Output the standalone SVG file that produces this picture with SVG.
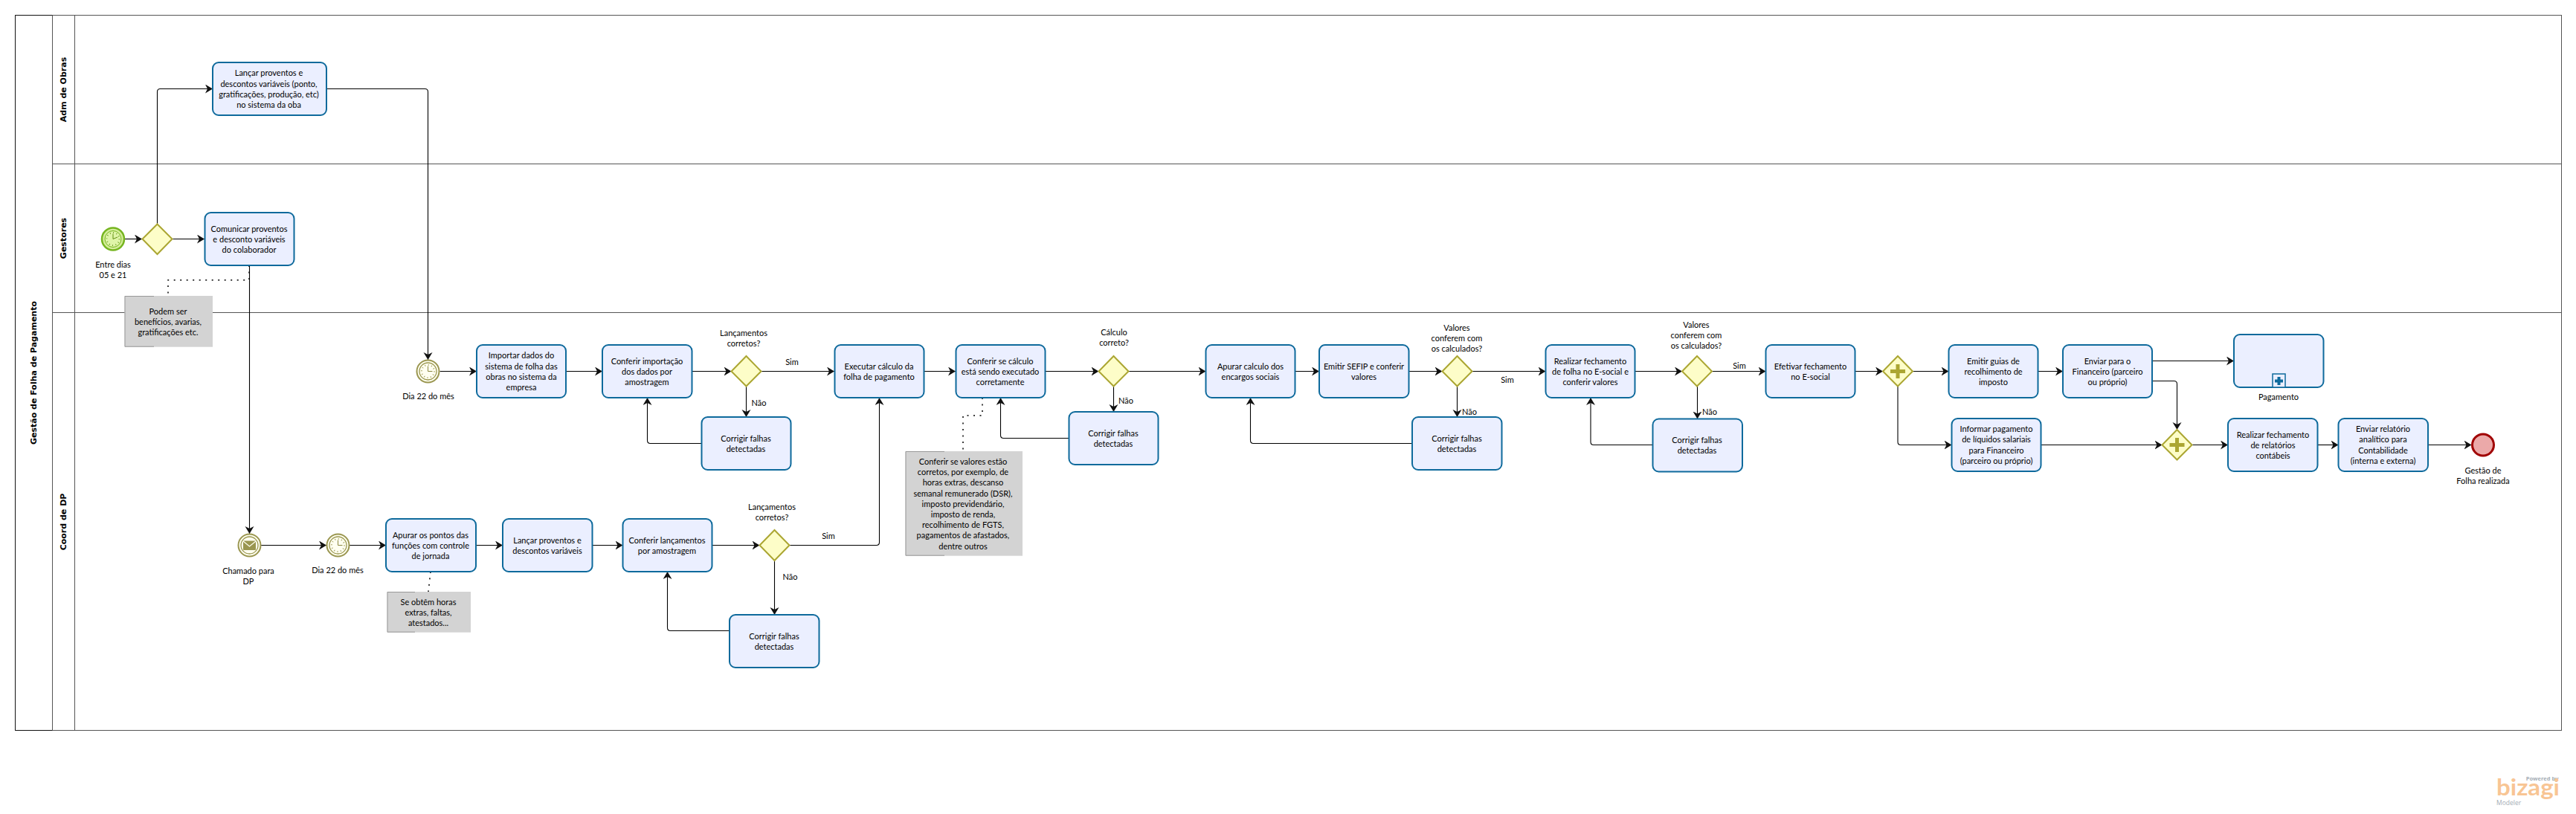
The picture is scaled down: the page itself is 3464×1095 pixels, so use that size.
<svg xmlns="http://www.w3.org/2000/svg" width="3464" height="1095" viewBox="0 0 3464 1095">
<style>
text{font-family:Lato,"Open Sans","DejaVu Sans",sans-serif;font-size:11px;fill:#000;text-anchor:middle;dominant-baseline:central}
.h{font-family:"DejaVu Sans",sans-serif;font-weight:bold;font-size:11px}
.frame{fill:none;stroke:#555;stroke-width:1}
.task{fill:#ebefff;stroke:#0e6a9c;stroke-width:2}
.gw{fill:#fdfdc8;stroke:#aba632;stroke-width:2}
.ann{fill:#d3d3d3}
.brk{fill:none;stroke:#999;stroke-width:1}
.sf{fill:none;stroke:#000;stroke-width:1.1;marker-end:url(#a)}
.dot{fill:none;stroke:#000;stroke-width:1.5;stroke-dasharray:2 6.5}
.plus{fill:#aba632}
.ev{fill:#fffff0;stroke:#9a9650;stroke-width:2}
</style>
<defs>
<marker id="a" markerUnits="userSpaceOnUse" markerWidth="12" markerHeight="14" refX="10" refY="6" orient="auto"><path d="M0 0L10 6L0 12L3 6Z" fill="#111"/></marker>
<g id="clock"><circle r="11.5" fill="#fffff0" stroke="#9a9650" stroke-width="1.3"/><circle r="8.500" fill="none" stroke="#9a9650" stroke-width="2" stroke-dasharray="0.9 3.55"/><path d="M0-7V0L6 0" fill="none" stroke="#8a8640" stroke-width="1"/></g>
</defs>
<g id="pool">
<rect class="frame" x="20.5" y="20.5" width="3424" height="962"/>
<path d="M20.5 20.5H70.5M20.5 20.5V982.5H70.5" fill="none" stroke="#111"/>
<path class="frame" d="M70.5 20.5V982.5M100.5 20.5V982.5M70.5 220.5H3444.5M70.5 420.5H3444.5"/>
<text class="h" transform="translate(45 501.5) rotate(-90)">Gestão de Folha de Pagamento</text>
<text class="h" transform="translate(85 120.5) rotate(-90)">Adm de Obras</text>
<text class="h" transform="translate(85 320.5) rotate(-90)">Gestores</text>
<text class="h" transform="translate(85 702) rotate(-90)">Coord de DP</text>
</g>
<g id="connectors">
<path class="sf" d="M168 321.500H191"/>
<path class="sf" d="M232 321.500H275"/>
<path class="sf" d="M211.500 301V123.500Q211.500 119.500 215.500 119.500H286"/>
<path class="sf" d="M439 119.500H571.500Q575.500 119.500 575.500 123.500V484"/>
<path class="sf" d="M335.500 357V718"/>
<path class="sf" d="M591.500 499.500H641"/>
<path class="sf" d="M351 733.500H439"/>
<path class="sf" d="M470 733.500H519"/>
<path class="sf" d="M640 733.500H676"/>
<path class="sf" d="M796.500 733.500H837.500"/>
<path class="sf" d="M957.500 733.500H1021.500"/>
<path class="sf" d="M1061.500 733.500H1178.500Q1182.500 733.500 1182.500 729.500V535"/>
<path class="sf" d="M1041.500 753.500V827"/>
<path class="sf" d="M981 848.500H901.500Q897.500 848.500 897.500 844.500V769"/>
<path class="sf" d="M761 499.500H810"/>
<path class="sf" d="M930.500 499.500H983.500"/>
<path class="sf" d="M1023.500 499.500H1122"/>
<path class="sf" d="M1003.500 519.500V561"/>
<path class="sf" d="M943.500 596.500H874.500Q870.500 596.500 870.500 592.500V535"/>
<path class="sf" d="M1242.500 499.500H1285"/>
<path class="sf" d="M1405.500 499.500H1477.500"/>
<path class="sf" d="M1517.500 499.500H1621.500"/>
<path class="sf" d="M1497.500 519.500V554"/>
<path class="sf" d="M1437.500 589.500H1349.500Q1345.500 589.500 1345.500 585.500V535"/>
<path class="sf" d="M1741.500 499.500H1774"/>
<path class="sf" d="M1894.500 499.500H1939.500"/>
<path class="sf" d="M1979.500 499.500H2078.500"/>
<path class="sf" d="M1959.500 519.500V561"/>
<path class="sf" d="M1899 596.500H1685.500Q1681.500 596.500 1681.500 592.500V535"/>
<path class="sf" d="M2198.500 499.500H2262"/>
<path class="sf" d="M2302 499.500H2374.500"/>
<path class="sf" d="M2282.500 519.500V563.500"/>
<path class="sf" d="M2222.500 598.500H2143Q2139 598.500 2139 594.500V535"/>
<path class="sf" d="M2494.500 499.500H2532"/>
<path class="sf" d="M2572 499.500H2620.500"/>
<path class="sf" d="M2552 519.500V594.500Q2552 598.500 2556 598.500H2624.500"/>
<path class="sf" d="M2740.500 499.500H2774"/>
<path class="sf" d="M2894 485.500H3004"/>
<path class="sf" d="M2894 512.500H2923.500Q2927.500 512.500 2927.500 516.500V578"/>
<path class="sf" d="M2744.500 598.500H2907.500"/>
<path class="sf" d="M2947.500 598.500H2996"/>
<path class="sf" d="M3116.500 598.500H3144.500"/>
<path class="sf" d="M3264.500 598.500H3323.500"/>
<path class="dot" d="M335 357V376.700H226V398"/>
<path class="dot" d="M579 769L576 796"/>
<path class="dot" d="M1321 535V559H1295V607"/>
</g>
<g id="start"><circle cx="152" cy="321.500" r="15" fill="#d4ed9a" stroke="#76b520" stroke-width="2.500"/><circle cx="152" cy="321.500" r="11" fill="#dff5a8" stroke="#76b520"/><circle cx="152" cy="321.500" r="8.500" fill="none" stroke="#5f8f10" stroke-width="2" stroke-dasharray="0.8 3.65"/><path d="M152 314.500V321.500L158 319" fill="none" stroke="#5f8f10"/><text x="152" y="355">Entre dias</text><text x="152" y="369">05 e 21</text></g>
<g id="gw0"><path class="gw" d="M211.500 301.500L231.500 321.500L211.500 342L191.500 321.500Z"/></g>
<g id="t-lancar"><rect class="task" x="286" y="84" width="153" height="71" rx="8"/><text x="361.500" y="97">Lançar proventos e</text><text x="361.500" y="112">descontos variáveis (ponto,</text><text x="361.500" y="126">gratificações, produção, etc)</text><text x="361.500" y="140">no sistema da oba</text></g>
<g id="t-comunicar"><rect class="task" x="275.500" y="286" width="120" height="71" rx="8"/><text x="335" y="307">Comunicar proventos</text><text x="335" y="321">e desconto variáveis</text><text x="335" y="335">do colaborador</text></g>
<g id="ann1"><rect class="ann" x="167.500" y="398" width="118.500" height="68.700"/><path class="brk" d="M207 398.500H168V466.200H207"/><text x="226" y="418">Podem ser</text><text x="226" y="432">benefícios, avarias,</text><text x="226" y="446">gratificações etc.</text></g>
<g id="timer1"><circle class="ev" cx="575.500" cy="499.500" r="15"/><use href="#clock" x="575.500" y="499.500"/><text x="576" y="532">Dia 22 do mês</text></g>
<g id="msg"><circle class="ev" cx="335.500" cy="733.500" r="15"/><circle cx="335.500" cy="733.500" r="11.500" fill="#fffff0" stroke="#9a9650" stroke-width="1.300"/><rect x="327" y="727.500" width="17" height="12.500" rx="1" fill="#9a9650"/><path d="M327 728L335.500 735L344 728" fill="none" stroke="#fffff0" stroke-width="1.200"/><text x="334" y="767.500">Chamado para</text><text x="334" y="781">DP</text></g>
<g id="timer2"><circle class="ev" cx="454.500" cy="733.500" r="15"/><use href="#clock" x="454.500" y="733.500"/><text x="454" y="766">Dia 22 do mês</text></g>
<g id="t-apurar"><rect class="task" x="519" y="698" width="121" height="71" rx="8"/><text x="579" y="719">Apurar os pontos das</text><text x="579" y="733.500">funções com controle</text><text x="579" y="747">de jornada</text></g>
<g id="ann2"><rect class="ann" x="520.500" y="796" width="112.500" height="54.700"/><path class="brk" d="M558 796.500H521V850.200H558"/><text x="576" y="809">Se obtêm horas</text><text x="576" y="823">extras, faltas,</text><text x="576" y="837.500">atestados...</text></g>
<g id="t-lanc2"><rect class="task" x="676" y="698" width="120.500" height="71" rx="8"/><text x="736" y="726">Lançar proventos e</text><text x="736" y="740">descontos variáveis</text></g>
<g id="t-conf-lanc"><rect class="task" x="837.500" y="698" width="120" height="71" rx="8"/><text x="897" y="726">Conferir lançamentos</text><text x="897" y="740">por amostragem</text></g>
<g id="gw1"><path class="gw" d="M1041.500 713L1061.500 733.500L1041.500 754L1021.500 733.500Z"/><text x="1038" y="681">Lançamentos</text><text x="1038" y="695">corretos?</text><text x="1114" y="720">Sim</text><text x="1062.500" y="775">Não</text></g>
<g id="t-corr5"><rect class="task" x="981" y="827" width="120.500" height="71" rx="8"/><text x="1041" y="855">Corrigir falhas</text><text x="1041" y="869">detectadas</text></g>
<g id="t-importar"><rect class="task" x="641" y="464" width="120" height="71" rx="8"/><text x="701" y="477">Importar dados do</text><text x="701" y="492">sistema de folha das</text><text x="701" y="506">obras no sistema da</text><text x="701" y="520">empresa</text></g>
<g id="t-conf-imp"><rect class="task" x="810" y="464" width="120.500" height="71" rx="8"/><text x="870" y="485">Conferir importação</text><text x="870" y="499">dos dados por</text><text x="870" y="513">amostragem</text></g>
<g id="gw2"><path class="gw" d="M1003.500 479L1023.500 499.500L1003.500 519.500L983.500 499.500Z"/><text x="1000" y="447">Lançamentos</text><text x="1000" y="461">corretos?</text><text x="1065" y="486">Sim</text><text x="1020.500" y="541">Não</text></g>
<g id="t-corr1"><rect class="task" x="943.500" y="561" width="120" height="71" rx="8"/><text x="1003" y="589">Corrigir falhas</text><text x="1003" y="603">detectadas</text></g>
<g id="t-exec"><rect class="task" x="1122.500" y="464" width="120" height="71" rx="8"/><text x="1182" y="492.300">Executar cálculo da</text><text x="1182" y="506">folha de pagamento</text></g>
<g id="t-conf-calc"><rect class="task" x="1285.500" y="464" width="120" height="71" rx="8"/><text x="1345" y="485">Conferir se cálculo</text><text x="1345" y="499">está sendo executado</text><text x="1345" y="513">corretamente</text></g>
<g id="ann3"><rect class="ann" x="1217.500" y="607" width="157.500" height="140.700"/><path class="brk" d="M1270 607.500H1218V747.200H1270"/><text x="1295" y="620">Conferir se valores estão</text><text x="1295" y="634">corretos, por exemplo, de</text><text x="1295" y="648">horas extras, descanso</text><text x="1295" y="663">semanal remunerado (DSR),</text><text x="1295" y="677">imposto previdendário,</text><text x="1295" y="691">imposto de renda,</text><text x="1295" y="705">recolhimento de FGTS,</text><text x="1295" y="719">pagamentos de afastados,</text><text x="1295" y="734">dentre outros</text></g>
<g id="gw3"><path class="gw" d="M1497.500 479L1517.500 499.500L1497.500 519.500L1477.500 499.500Z"/><text x="1498" y="446">Cálculo</text><text x="1498" y="460">correto?</text><text x="1514" y="538">Não</text></g>
<g id="t-corr2"><rect class="task" x="1437.500" y="554" width="120" height="71" rx="8"/><text x="1497" y="582.300">Corrigir falhas</text><text x="1497" y="596">detectadas</text></g>
<g id="t-encargos"><rect class="task" x="1621.500" y="464" width="120" height="71" rx="8"/><text x="1681.500" y="492">Apurar calculo dos</text><text x="1681.500" y="506">encargos sociais</text></g>
<g id="t-sefip"><rect class="task" x="1774" y="464" width="120.500" height="71" rx="8"/><text x="1834" y="492">Emitir SEFIP e conferir</text><text x="1834" y="506">valores</text></g>
<g id="gw4"><path class="gw" d="M1959.500 479L1979.500 499.500L1959.500 519.500L1939.500 499.500Z"/><text x="1959" y="440">Valores</text><text x="1959" y="454">conferem com</text><text x="1959" y="468">os calculados?</text><text x="2027" y="510">Sim</text><text x="1976" y="553">Não</text></g>
<g id="t-corr3"><rect class="task" x="1899" y="561" width="120.500" height="71" rx="8"/><text x="1959" y="589">Corrigir falhas</text><text x="1959" y="603">detectadas</text></g>
<g id="t-fech"><rect class="task" x="2078.500" y="464" width="120" height="71" rx="8"/><text x="2138.500" y="485">Realizar fechamento</text><text x="2138.500" y="499">de folha no E-social e</text><text x="2138.500" y="513">conferir valores</text></g>
<g id="gw5"><path class="gw" d="M2282 479L2302 499.500L2282 519.500L2262 499.500Z"/><text x="2281" y="436">Valores</text><text x="2281" y="450.500">conferem com</text><text x="2281" y="464">os calculados?</text><text x="2339" y="491">Sim</text><text x="2299" y="553">Não</text></g>
<g id="t-corr4"><rect class="task" x="2222.500" y="563.500" width="120.500" height="71" rx="8"/><text x="2282" y="591">Corrigir falhas</text><text x="2282" y="605">detectadas</text></g>
<g id="t-efetivar"><rect class="task" x="2374.500" y="464" width="120" height="71" rx="8"/><text x="2434.500" y="492">Efetivar fechamento</text><text x="2434.500" y="506">no E-social</text></g>
<g id="gw6"><path class="gw" d="M2552 479L2572 499.500L2552 519.500L2532 499.500Z"/><path class="plus" d="M2549.500 490H2554.500V497H2562V502H2554.500V509H2549.500V502H2542V497H2549.500Z"/></g>
<g id="t-guias"><rect class="task" x="2620.500" y="464" width="120" height="71" rx="8"/><text x="2680.500" y="485">Emitir guias de</text><text x="2680.500" y="499">recolhimento de</text><text x="2680.500" y="513">imposto</text></g>
<g id="t-enviar"><rect class="task" x="2774" y="464" width="120" height="71" rx="8"/><text x="2834" y="485">Enviar para o</text><text x="2834" y="499">Financeiro (parceiro</text><text x="2834" y="513">ou próprio)</text></g>
<g id="sub-pagamento"><rect class="task" x="3004" y="450" width="120.500" height="71" rx="8"/><rect x="3056" y="503" width="17" height="18" fill="#ebefff" stroke="#0e6a9c" stroke-width="1.500"/><path d="M3062.500 507H3066.500V510.500H3070V514.500H3066.500V518H3062.500V514.500H3059V510.500H3062.500Z" fill="#0e6a9c"/><text x="3064" y="533">Pagamento</text></g>
<g id="t-informar"><rect class="task" x="2624.500" y="563" width="120" height="71" rx="8"/><text x="2684.500" y="576.300">Informar pagamento</text><text x="2684.500" y="590.600">de líquidos salariais</text><text x="2684.500" y="605">para Financeiro</text><text x="2684.500" y="619">(parceiro ou próprio)</text></g>
<g id="gw7"><path class="gw" d="M2927.500 578L2947.500 598.500L2927.500 618.500L2907.500 598.500Z"/><path class="plus" d="M2925 589H2930V596H2937.500V601H2930V608H2925V601H2917.500V596H2925Z"/></g>
<g id="t-rel"><rect class="task" x="2996" y="563" width="120.500" height="71" rx="8"/><text x="3056.500" y="584">Realizar fechamento</text><text x="3056.500" y="598">de relatórios</text><text x="3056.500" y="612">contábeis</text></g>
<g id="t-env-rel"><rect class="task" x="3144.500" y="563" width="120.500" height="71" rx="8"/><text x="3204.500" y="576.300">Enviar relatório</text><text x="3204.500" y="590.600">analítico para</text><text x="3204.500" y="605">Contabilidade</text><text x="3204.500" y="619">(interna e externa)</text></g>
<g id="end"><circle cx="3339" cy="598.500" r="14.500" fill="#eba9a9" stroke="#a00000" stroke-width="3"/><text x="3339" y="632">Gestão de</text><text x="3339" y="646">Folha realizada</text></g>
<g id="logo"><text x="3440.500" y="1047" style="text-anchor:end;font-family:'Open Sans',sans-serif;font-size:7.500px;fill:#a5adb5;font-weight:bold">Powered by</text><text x="3357" y="1070" style="text-anchor:start;dominant-baseline:auto;font-size:30px;font-weight:bold;fill:#f8c594" textLength="85" lengthAdjust="spacingAndGlyphs">bizagi</text><text x="3357" y="1079.500" style="text-anchor:start;font-family:'Open Sans',sans-serif;font-size:8.500px;fill:#a5adb5">Modeler</text></g>
</svg>
